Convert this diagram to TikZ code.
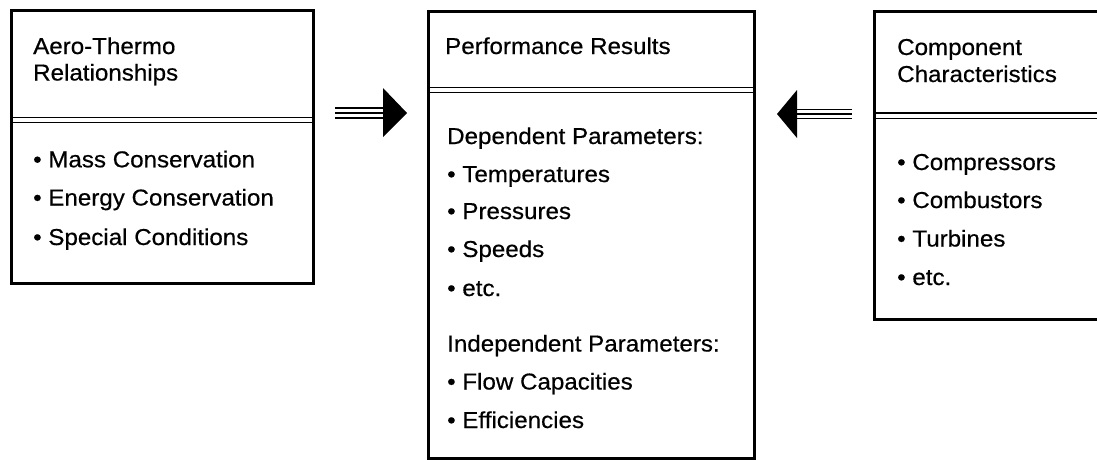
\documentclass[tikz,border=0pt]{standalone}
\usepackage{fontspec}
\setmainfont{Liberation Sans}[FakeStretch=1.05,FakeBold=0.5]
\begin{document}
\begin{tikzpicture}[x=1pt,y=-1pt,
  box/.style={draw=black,line width=2.8pt,rectangle,anchor=north west,inner sep=0pt},
  sepline/.style={draw=black,line width=1.5pt},
  shaft/.style={draw=black,line width=1.4pt},
  head/.style={fill=black},
  txt/.style={anchor=base west,inner sep=0pt,font=\fontsize{23}{28}\selectfont}]
\useasboundingbox (0,0) rectangle (1097,459);
% boxes
\node[box,minimum width=302,minimum height=273] (L) at (10,9) {};
\node[box,minimum width=326,minimum height=447] (C) at (427,10) {};
\node[box,minimum width=240,minimum height=308] (R) at (873,10) {};
% separators (double lines)
\draw[sepline] (10,117.3) -- (312,117.3);
\draw[sepline] (10,122.7) -- (312,122.7);
\draw[sepline] (427,87.3) -- (753,87.3);
\draw[sepline] (427,92.7) -- (753,92.7);
\draw[sepline] (873,113) -- (1100,113);
\draw[sepline] (873,118.4) -- (1100,118.4);
% left arrow
\coordinate (a1s) at (335,113);
\coordinate (a1e) at (383,113);
\coordinate (a1t) at (407,113);
\foreach \d in {-5,0,5}{\draw[shaft] ([yshift=\d]a1s) -- ([yshift=\d]a1e);}
\fill[head] ([yshift=-24]a1e) -- (a1t) -- ([yshift=25]a1e) -- cycle;
% right arrow
\coordinate (a2s) at (852,114);
\coordinate (a2e) at (797,114);
\coordinate (a2t) at (777,114);
\foreach \d in {-4.5,0,4.5}{\draw[shaft] ([yshift=\d]a2s) -- ([yshift=\d]a2e);}
\fill[head] ([yshift=-24]a2e) -- (a2t) -- ([yshift=24]a2e) -- cycle;
% left texts
\node[txt] (l1) at (33,54) {Aero-Thermo};
\node[txt] (l2) at (33,80.5) {Relationships};
\node[txt] (l3) at (33,167.3) {• Mass Conservation};
\node[txt] (l4) at (33,205.5) {• Energy Conservation};
\node[txt] (l5) at (33,245) {• Special Conditions};
% centre texts
\node[txt] (c1) at (445,54) {Performance Results};
\node[txt] (c2) at (447,144) {Dependent Parameters:};
\node[txt] (c3) at (447,182) {• Temperatures};
\node[txt] (c4) at (447,219) {• Pressures};
\node[txt] (c5) at (447,257) {• Speeds};
\node[txt] (c6) at (447,296) {• etc.};
\node[txt] (c7) at (447,351.5) {Independent Parameters:};
\node[txt] (c8) at (447,389.5) {• Flow Capacities};
\node[txt] (c9) at (447,428) {• Efficiencies};
% right texts
\node[txt] (r1) at (897,55) {Component};
\node[txt] (r2) at (897,82) {Characteristics};
\node[txt] (r3) at (897,170) {• Compressors};
\node[txt] (r4) at (897,208) {• Combustors};
\node[txt] (r5) at (897,246.5) {• Turbines};
\node[txt] (r6) at (897,285) {• etc.};
\end{tikzpicture}
\end{document}
